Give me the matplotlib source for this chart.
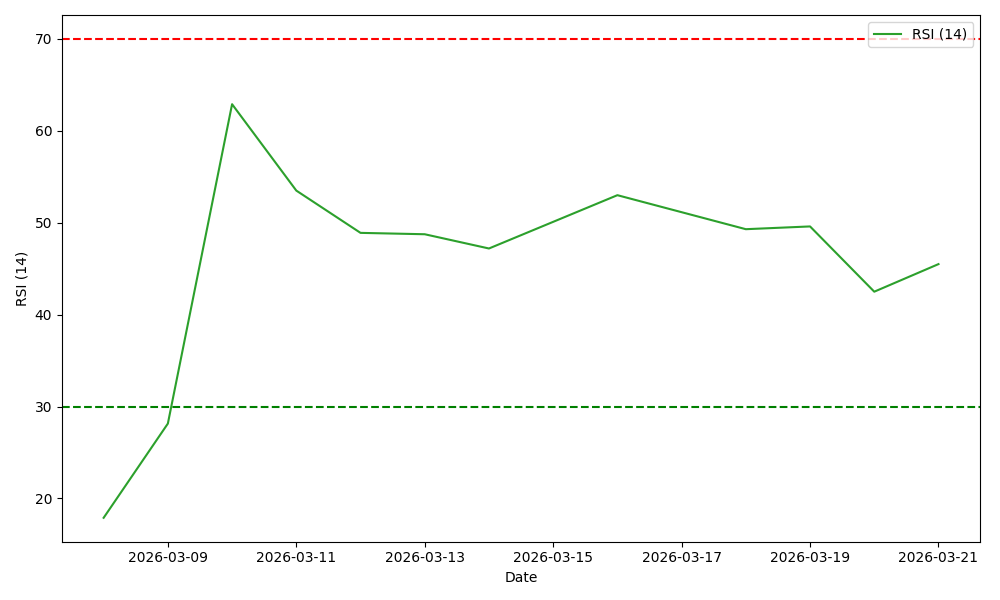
import matplotlib
matplotlib.use("Agg")
import matplotlib.pyplot as plt
import matplotlib.dates as mdates
import pandas as pd

# RSI values
dates = pd.to_datetime([
    "2026-03-08", "2026-03-09", "2026-03-10", "2026-03-11", "2026-03-12",
    "2026-03-13", "2026-03-14", "2026-03-16", "2026-03-18", "2026-03-19",
    "2026-03-20", "2026-03-21",
])
rsi = [17.9, 28.15, 62.9, 53.5, 48.9, 48.75, 47.2, 53.0, 49.3, 49.6, 42.5, 45.5]

OVERBOUGHT = 70
OVERSOLD = 30

fig, ax = plt.subplots(figsize=(10, 6), dpi=100)
ax.plot(dates, rsi, color="#2ca02c", label="RSI (14)")
ax.axhline(OVERBOUGHT, color="red", linestyle="--")
ax.axhline(OVERSOLD, color="green", linestyle="--")

ax.xaxis.set_major_locator(mdates.DayLocator(interval=2, bymonthday=range(1, 32, 2)))
ax.xaxis.set_major_formatter(mdates.DateFormatter("%Y-%m-%d"))
ax.set_xlabel("Date")
ax.set_ylabel("RSI (14)")
ax.legend(loc="upper right")

fig.tight_layout()
fig.savefig("out.png")
